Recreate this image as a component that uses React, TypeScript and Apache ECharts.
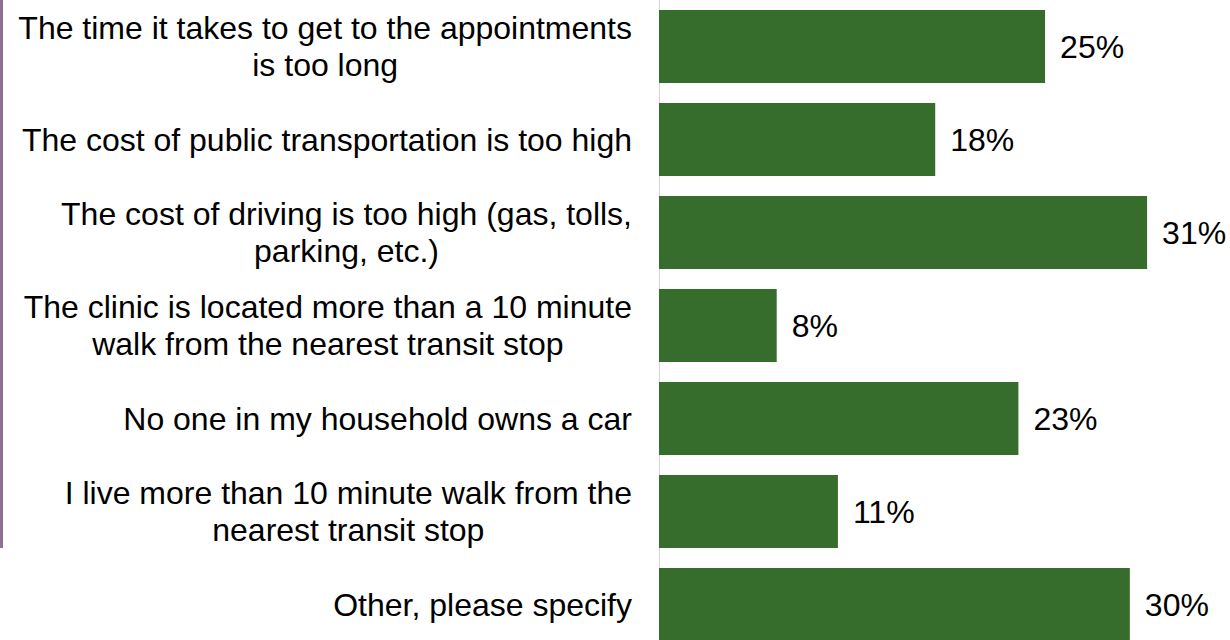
import React, { useEffect, useRef } from "react";
import * as echarts from "echarts";

const categories: string[] = [
  "The time it takes to get to the appointments\nis too long",
  "The cost of public transportation is too high",
  "The cost of driving is too high (gas, tolls,\nparking, etc.)",
  "The clinic is located more than a 10 minute\nwalk from the nearest transit stop",
  "No one in my household owns a car",
  "I live more than 10 minute walk from the\nnearest transit stop",
  "Other, please specify",
];

const values: number[] = [24.6, 17.6, 31.1, 7.5, 22.9, 11.4, 30.0];
const valueLabels: string[] = ["25%", "18%", "31%", "8%", "23%", "11%", "30%"];

const FONT = "'Liberation Sans', Arial, sans-serif";

export default function App() {
  const ref = useRef<HTMLDivElement>(null);

  useEffect(() => {
    document.body.style.margin = "0";
    if (!ref.current) return;
    const chart = echarts.init(ref.current, undefined, { renderer: "svg" });
    chart.setOption({
      animation: false,
      backgroundColor: "#ffffff",
      grid: { left: 659, top: 0, width: 565, height: 651, containLabel: false },
      xAxis: {
        type: "value",
        min: 0,
        max: 36,
        show: false,
      },
      yAxis: {
        type: "category",
        data: categories,
        inverse: true,
        axisTick: { show: false },
        axisLine: { show: true, lineStyle: { color: "#d4d4d4", width: 1 } },
        splitLine: { show: false },
        axisLabel: {
          margin: 27,
          formatter: (v: string) =>
            v
              .split("\n")
              .map((l) => `{c|${l}}`)
              .join("\n"),
          rich: {
            c: {
              align: "center",
              fontSize: 32,
              lineHeight: 37,
              fontFamily: FONT,
              color: "#000000",
            },
          },
        },
      },
      graphic: [
        {
          type: "rect",
          left: 0,
          top: 0,
          shape: { x: 0, y: 0, width: 3, height: 548 },
          style: { fill: "#8a7290" },
          silent: true,
        },
      ],
      series: [
        {
          type: "bar",
          data: values,
          barWidth: 73,
          itemStyle: { color: "#376d2c" },
          label: {
            show: true,
            position: "right",
            distance: 15,
            fontSize: 32,
            fontFamily: FONT,
            color: "#000000",
            formatter: (p: any) => valueLabels[p.dataIndex],
          },
        },
      ],
    });
    return () => chart.dispose();
  }, []);

  return (
    <div style={{ width: 1230, height: 640, overflow: "hidden" }}>
      <div ref={ref} style={{ width: 1230, height: 651 }} />
    </div>
  );
}
